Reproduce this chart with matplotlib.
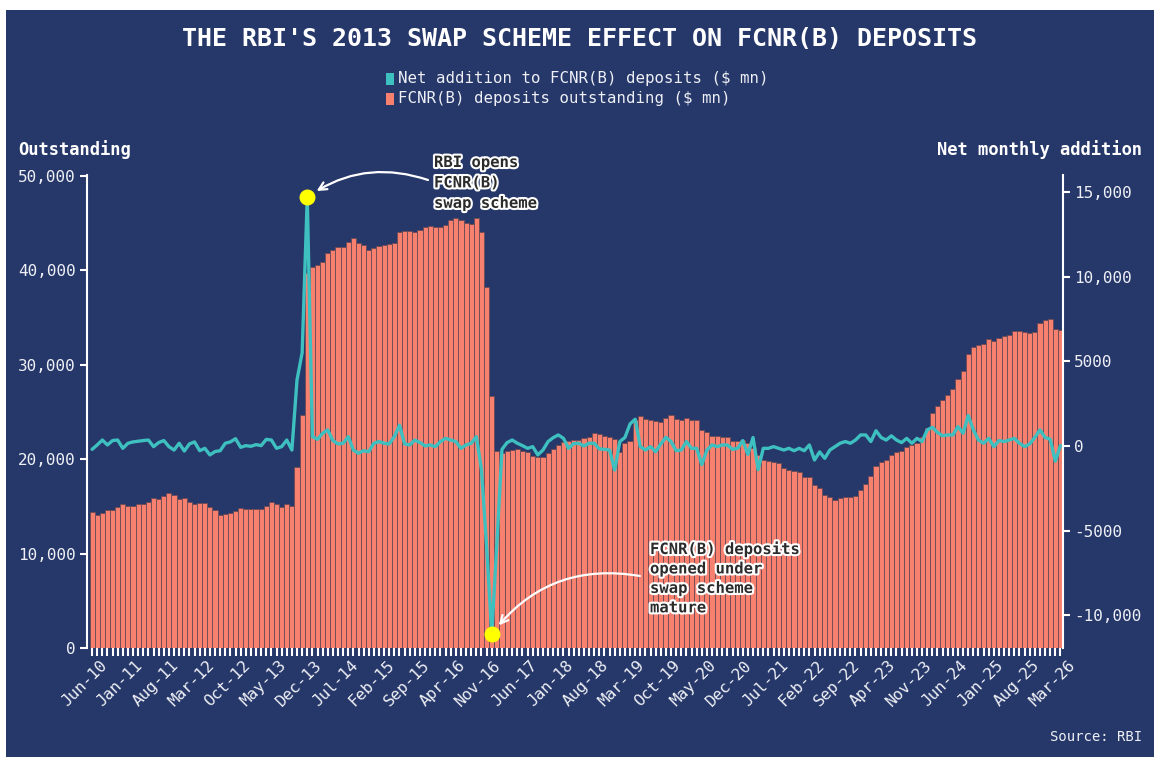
import matplotlib
matplotlib.use('Agg')
import matplotlib.pyplot as plt
import matplotlib.patheffects as pe
import matplotlib.transforms as mtransforms
from matplotlib.patches import Rectangle
import numpy as np
import pandas as pd

# monthly categories Jun-10 .. Mar-26
months = pd.date_range('2010-06-01', periods=190, freq='MS').strftime('%b-%y').tolist()

# FCNR(B) deposits outstanding ($ mn)
outstanding = [
    14400, 14100, 14300, 14600, 14600, 14900, 15200, 15000, 15000, 15200,
    15300, 15500, 15900, 15800, 16100, 16400, 16200, 15800, 15900, 15500,
    15300, 15400, 15400, 14900, 14600, 14100, 14200, 14300, 14500, 14800,
    14700, 14700, 14700, 14700, 15000, 15500, 15300, 14900, 15300, 15000,
    19200, 24700, 39700, 40400, 40600, 40900, 41800, 42200, 42500, 42500,
    43000, 43400, 42900, 42700, 42200, 42400, 42600, 42700, 42800, 42900,
    44100, 44200, 44200, 44100, 44300, 44600, 44700, 44600, 44600, 44800,
    45300, 45500, 45300, 45000, 44900, 45500, 44100, 38200, 26700, 20900,
    20700, 20900, 21000, 21100, 20900, 20800, 20300, 20200, 20200, 20700,
    21100, 21500, 21800, 21900, 22000, 22000, 22200, 22400, 22800, 22700,
    22500, 22300, 22100, 20800, 21700, 21900, 24200, 24600, 24300, 24200,
    24000, 23900, 24400, 24700, 24300, 24100, 24400, 24200, 24200, 23100,
    22900, 22500, 22500, 22400, 22400, 21900, 21900, 22000, 21700, 21200,
    20400, 19900, 19800, 19700, 19600, 19100, 18900, 18800, 18600, 18100,
    18100, 17300, 16900, 16200, 16000, 15700, 15900, 16000, 16000, 16100,
    16700, 17400, 18200, 19300, 19700, 19900, 20400, 20800, 20900, 21300,
    21500, 21700, 22300, 23300, 24900, 25600, 26300, 26800, 27400, 28500,
    29300, 31100, 31900, 32100, 32200, 32700, 32500, 32800, 33000, 33200,
    33600, 33600, 33500, 33400, 33500, 34400, 34700, 34800, 33800, 33700,
]

# net monthly addition ($ mn)
net_addition = [
    -200, 60, 350, 60, 320, 350, -140, 160, 240, 280,
    320, 350, -40, 200, 320, -40, -240, 160, -300, 120,
    240, -280, -140, -530, -330, -280, 160, 240, 430, -80,
    20, -20, 80, 20, 390, 350, -140, -40, 350, -240,
    3900, 5500, 14700, 550, 390, 750, 950, 320, 120, 160,
    550, -240, -430, -280, -340, 160, 260, 160, 120, 550,
    1230, 120, 60, 350, 200, 0, 60, -40, 260, 450,
    350, 260, -140, 60, 160, 550, -1400, -5900, -11100, -5800,
    -200, 200, 350, 160, 20, -140, -40, -530, -240, 260,
    490, 650, 450, -140, 140, 160, 0, 160, 160, -170,
    -200, -240, -1420, 260, 500, 1300, 1580, -40, -240, -40,
    -340, 120, 510, 260, -280, -240, 260, -140, -140, -1100,
    -240, 60, -40, 60, 60, -200, -140, 320, -500, 500,
    -1400, -140, -140, -40, -140, -240, -140, -280, -140, -280,
    60, -830, -350, -730, -240, -40, 160, 260, 160, 350,
    650, 650, 260, 900, 500, 350, 600, 350, 200, 450,
    160, 450, 260, 950, 1100, 800, 600, 650, 650, 1140,
    750, 1800, 950, 350, 160, 450, -40, 320, 260, 350,
    450, 160, -40, 120, 500, 950, 500, 400, -900, 20,
]

left_ticks = [0, 10000, 20000, 30000, 40000, 50000]
left_labels = ['0', '10,000', '20,000', '30,000', '40,000', '50,000']
right_ticks = [-10000, -5000, 0, 5000, 10000, 15000]
right_labels = ['-10,000', '-5000', '0', '5000', '10,000', '15,000']

NAVY = '#26376a'
SALMON = '#f8806f'
TEAL = '#3ebfc0'
TXT = '#eef0f5'

plt.rcParams['font.family'] = ['DejaVu Sans Mono']

W, H = 1162, 768


def fx(px):
    return px / W


def fy(py):
    return 1 - py / H


fig = plt.figure(figsize=(W / 100, H / 100), dpi=100, facecolor='white')
fig.patches.append(Rectangle((fx(6), fy(757)), fx(1154) - fx(6), fy(10) - fy(757),
                             transform=fig.transFigure, facecolor=NAVY,
                             edgecolor='none', zorder=-10))

ax = fig.add_axes([fx(87), fy(648), fx(1063) - fx(87), fy(175) - fy(648)])
ax.set_facecolor('none')
x = np.arange(len(months))
ax.bar(x, outstanding, width=1.0, color=SALMON, edgecolor='#6a4b55', linewidth=0.6, zorder=2)
ax.set_xlim(-0.99, len(months) - 0.5)
ax.set_ylim(0, 50100)
ax.set_yticks(left_ticks)
ax.set_yticklabels(left_labels)
ax.set_xticks(x)
ax.set_xticklabels([m if i % 7 == 0 else '' for i, m in enumerate(months)],
                   rotation=45, ha='right', rotation_mode='anchor')
ax.tick_params(axis='y', length=5, width=1.5, color='white', labelcolor=TXT,
               labelsize=11.5, pad=3)
ax.tick_params(axis='x', length=6, width=1.5, color='white', labelcolor=TXT,
               labelsize=11.5, pad=4)
shift = mtransforms.ScaledTranslation(7 / 100, 4 / 100, fig.dpi_scale_trans)
for lab in ax.get_xticklabels():
    lab.set_transform(lab.get_transform() + shift)
for s in ['top', 'right', 'bottom']:
    ax.spines[s].set_visible(False)
ax.spines['left'].set_color('white')
ax.spines['left'].set_linewidth(1.5)

ax2 = ax.twinx()
ax2.plot(x, net_addition, color=TEAL, lw=2.4, solid_joinstyle='round',
         solid_capstyle='round', zorder=3)
ax2.set_ylim(-11930, 16000)
ax2.set_yticks(right_ticks)
ax2.set_yticklabels(right_labels)
ax2.tick_params(axis='y', length=5, width=1.5, color='white', labelcolor=TXT,
                labelsize=11.5, pad=3)
for s in ['top', 'left', 'bottom']:
    ax2.spines[s].set_visible(False)
ax2.spines['right'].set_color('white')
ax2.spines['right'].set_linewidth(1.5)

peak = int(np.argmax(net_addition))
trough = int(np.argmin(net_addition))
ax2.plot([peak, trough], [net_addition[peak], net_addition[trough]], 'o',
         ms=10.5, color='#ffff00', zorder=6, clip_on=False)

halo = [pe.withStroke(linewidth=3, foreground='white')]
fig.text(fx(434), fy(155), 'RBI opens\nFCNR(B)\nswap scheme', ha='left', va='top',
         color='#2b2b2b', fontsize=11.2, fontweight='bold', linespacing=1.45,
         path_effects=halo)
ax2.annotate('', xy=(peak, net_addition[peak]), xytext=(fx(428), fy(180)),
             textcoords='figure fraction',
             arrowprops=dict(arrowstyle='->', color='white', lw=1.6,
                             connectionstyle='arc3,rad=0.25', shrinkA=0, shrinkB=8,
                             mutation_scale=14))
fig.text(fx(650), fy(541), 'FCNR(B) deposits\nopened under\nswap scheme\nmature',
         ha='left', va='top', color='#2b2b2b', fontsize=11.2, fontweight='bold',
         linespacing=1.37, path_effects=halo)
ax2.annotate('', xy=(trough, net_addition[trough]), xytext=(fx(640), fy(576)),
             textcoords='figure fraction',
             arrowprops=dict(arrowstyle='->', color='white', lw=1.6,
                             connectionstyle='arc3,rad=0.3', shrinkA=0, shrinkB=8,
                             mutation_scale=14))

# title, legend, axis titles, source
fig.text(fx(580), fy(39), "THE RBI'S 2013 SWAP SCHEME EFFECT ON FCNR(B) DEPOSITS",
         ha='center', va='center', color='white', fontsize=18, fontweight='bold')
for yy, col, lab in [(79, TEAL, 'Net addition to FCNR(B) deposits ($ mn)'),
                     (99, SALMON, 'FCNR(B) deposits outstanding ($ mn)')]:
    fig.patches.append(Rectangle((fx(386), fy(yy + 6)), fx(8), 12 / H,
                                 transform=fig.transFigure, facecolor=col,
                                 edgecolor='none'))
    fig.text(fx(398), fy(yy), lab, ha='left', va='center', color=TXT, fontsize=11.3)

fig.text(fx(18), fy(150), 'Outstanding', ha='left', va='center', color='white',
         fontsize=12.3, fontweight='bold')
fig.text(fx(1142), fy(150), 'Net monthly addition', ha='right', va='center',
         color='white', fontsize=12.3, fontweight='bold')
fig.text(fx(1142), fy(737), 'Source: RBI', ha='right', va='center', color=TXT,
         fontsize=10)

fig.savefig('out.png', dpi=100, facecolor='white')
